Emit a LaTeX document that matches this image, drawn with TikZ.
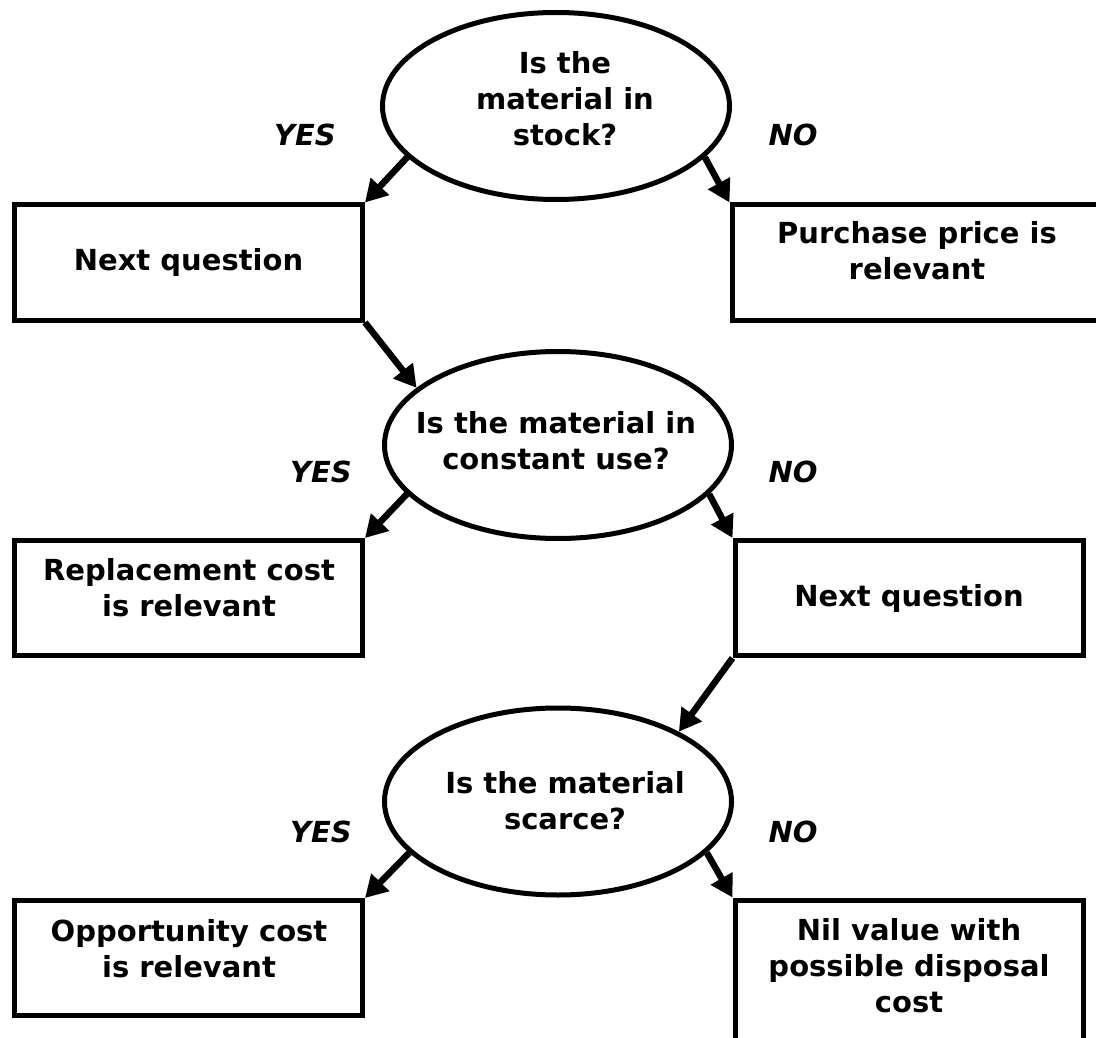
\documentclass[tikz,border=0pt]{standalone}
\usepackage{fontspec}
\setmainfont{DejaVu Sans}
\usetikzlibrary{shapes.geometric,arrows.meta}
\begin{document}
\begin{tikzpicture}[x=1pt,y=-1pt,
  question/.style={ellipse,draw,line width=5pt,minimum width=347pt,minimum height=187pt,inner sep=0pt},
  outcome/.style={rectangle,draw,line width=5pt,minimum width=348pt,minimum height=115pt,inner sep=0pt},
  txt/.style={font=\fontsize{29}{36}\selectfont\bfseries,align=center,inner sep=0pt},
  answer/.style={font=\fontsize{29}{36}\selectfont\bfseries\itshape,inner sep=0pt,anchor=base},
  flow/.style={line width=6.5pt,-{Triangle[length=22pt,width=24pt]}}]
\useasboundingbox (0,0) rectangle (1096,1038);
\clip (0,0) rectangle (1096,1038);

% first question and its outcomes
\node[question] (e1) at (556,106) {};
\node[txt,anchor=north] (e1t) at (565,51) {Is the\\material in\\stock?};
\node[outcome,txt] (b1) at (188.5,262.5) {Next question};
\node[outcome,minimum width=370pt] (b2) at (917,262.5) {};
\node[txt,anchor=north] (b2t) at (917,221) {Purchase price is\\relevant};

% second question
\node[question] (e2) at (558,445) {};
\node[txt,anchor=north] (e2t) at (556,411) {Is the material in\\constant use?};
\node[outcome] (b3) at (188.5,598) {};
\node[txt,anchor=north] (b3t) at (189,558) {Replacement cost\\is relevant};
\node[outcome,txt] (b4) at (909,598) {Next question};

% third question
\node[question] (e3) at (558,801.5) {};
\node[txt,anchor=north] (e3t) at (565,771) {Is the material\\scarce?};
\node[outcome] (b5) at (188.5,958) {};
\node[txt,anchor=north] (b5t) at (189,919) {Opportunity cost\\is relevant};
\node[outcome,minimum height=160pt] (b6) at (909,980) {};
\node[txt,anchor=north] (b6t) at (909,918) {Nil value with\\possible disposal\\cost};

% answer labels
\node[answer] (y1) at (305,146) {YES};
\node[answer] (n1) at (793,146) {NO};
\node[answer] (y2) at (321,482) {YES};
\node[answer] (n2) at (793,482) {NO};
\node[answer] (y3) at (321,842) {YES};
\node[answer] (n3) at (793,842) {NO};

% connectors
\draw[flow] (e1.199) -- (b1.north east);
\draw[flow] (e1.341) -- (b2.north west);
\draw[flow] (b1.south east) -- (e2.158);
\draw[flow] (e2.198) -- (b3.north east);
\draw[flow] (e2.342) -- (b4.north west);
\draw[flow] (b4.south west) -- (e3.30);
\draw[flow] (e3.199) -- (b5.north east);
\draw[flow] (e3.341) -- (b6.north west);
\end{tikzpicture}
\end{document}
